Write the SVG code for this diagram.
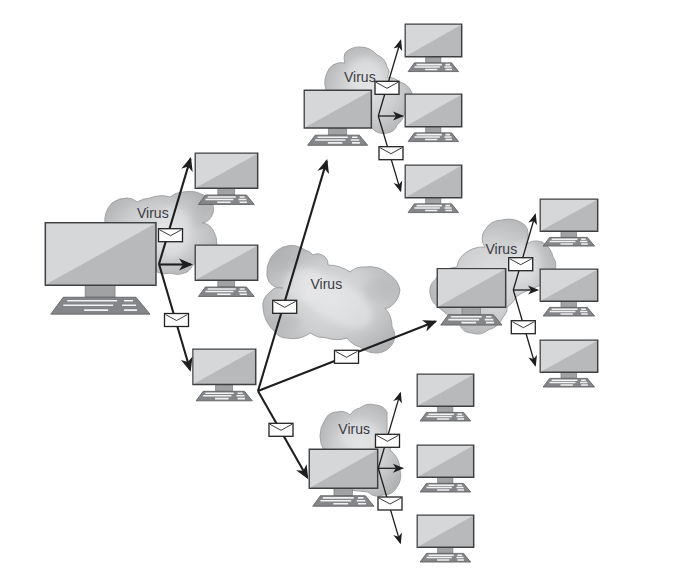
<svg xmlns="http://www.w3.org/2000/svg" width="692" height="577" viewBox="0 0 692 577">
<style>
.bg{fill:#fff}
.cloud{fill:url(#cg);stroke:#a3a4a6;stroke-width:1}
.puff{fill:#eeeeef;opacity:.4;filter:url(#soft)}
.shade{fill:#a9aaac;opacity:.3;filter:url(#soft)}
.label{font-family:"Liberation Sans",Arial,sans-serif;font-size:14px;fill:#3a3a44}
.scr{fill:#b8b9bb;stroke:#3f4042;stroke-width:1.5;vector-effect:non-scaling-stroke}
.lit{fill:#d6d7d9}
.stand{fill:#a1a2a4;stroke:#6d6e70;stroke-width:.6;vector-effect:non-scaling-stroke}
.kb{fill:#858689;stroke:#58595b;stroke-width:.8;vector-effect:non-scaling-stroke}
.key{stroke:#f1f1f2;stroke-width:1.6;vector-effect:non-scaling-stroke;fill:none}
.big{stroke:#1e1e1e;stroke-width:2.1;fill:none}
.mid{stroke:#1e1e1e;stroke-width:1.3;fill:none}
.env{fill:#fff;stroke:#232323;stroke-width:1.3}
.flap{fill:none;stroke:#3a3a3a;stroke-width:1}
</style>
<defs>
<radialGradient id="cg" cx="50%" cy="50%" r="58%">
<stop offset="0" stop-color="#dfe0e1"/><stop offset=".55" stop-color="#cdced0"/><stop offset="1" stop-color="#b2b3b5"/>
</radialGradient>
<filter id="soft" x="-40%" y="-40%" width="180%" height="180%"><feGaussianBlur stdDeviation="3"/></filter>
<marker id="ah" markerUnits="userSpaceOnUse" markerWidth="18" markerHeight="14" refX="12" refY="7" orient="auto"><path d="M14,7 L0,1 L4,7 L0,13z" fill="#1e1e1e"/></marker>
<marker id="as" markerUnits="userSpaceOnUse" markerWidth="14" markerHeight="12" refX="9.5" refY="6" orient="auto"><path d="M11,6 L0,1.5 L3,6 L0,10.500z" fill="#1e1e1e"/></marker>
<g id="pc">
<rect class="stand" x="40" y="63" width="30" height="12"/>
<path class="kb" d="M18,75 H91 L105,92 H5.500z"/>
<path class="key" d="M22,78.500 H72 M79,78.500 H88 M18,83 H68 M77,83 H91 M39,88 H63 M79,88 H92"/>
<rect class="scr" x="0" y="0" width="111" height="63"/>
<path class="lit" d="M1,1 H110 L1,62z"/>
</g>
<g id="mail">
<rect class="env" x="0" y="0" width="24" height="13"/>
<path class="flap" d="M1,1 L12,7 L23,1"/>
</g>
</defs>
<rect class="bg" width="692" height="577"/>

<g id="node-left">
<path class="cloud" d="M105,224 A26,26 0 0 1 112,203 A24,24 0 0 1 127,198 A14,14 0 0 1 137,202 A30,30 0 0 1 150,198 A30,30 0 0 1 170,197 A22,22 0 0 1 183,192 A30,30 0 0 1 210,200 A14,14 0 0 1 202,223 A14,14 0 0 1 213,230 A28,28 0 0 1 217,246 L193,265 A16,16 0 0 1 187,272 A22,22 0 0 1 170,273 A16,16 0 0 1 157,272 L150,226z"/>
<ellipse class="shade" cx="200" cy="215" rx="8" ry="14"/>
<ellipse class="puff" cx="172" cy="232" rx="18" ry="24"/>
<text class="label" x="137" y="218">Virus</text>
<use href="#pc" transform="translate(45.300,222.700) scale(.997,.994)"/>
</g>
<g id="pc-left-1"><use href="#pc" transform="translate(195.300,153.300) scale(.562,.556)"/></g>
<g id="pc-left-2"><use href="#pc" transform="translate(195.300,245.300) scale(.562,.556)"/></g>
<g id="pc-relay"><use href="#pc" transform="translate(193,349.300) scale(.565,.56)"/></g>

<g id="node-centre">
<path class="cloud" d="M267,276 A28,28 0 0 1 283,247 A24,24 0 0 1 305,250 A14,14 0 0 1 313,255 A10,10 0 0 1 325,257 A9,9 0 0 1 328,265 A40,40 0 0 1 350,272 A20,20 0 0 1 365,267 A30,30 0 0 1 390,275 A24,24 0 0 1 400,290 A24,24 0 0 1 390,307 A6,6 0 0 1 385,308 A28,28 0 0 1 392,327 A16,16 0 0 1 393,343 A20,20 0 0 1 378,353 A26,26 0 0 1 360,347 A24,24 0 0 1 347,338 A32,32 0 0 1 327,338 A28,28 0 0 1 310,333 A28,28 0 0 1 287,338 A14,14 0 0 1 275,332 A36,36 0 0 1 263,308 A16,16 0 0 1 270,292 A12,12 0 0 1 283,288 A14,14 0 0 1 267,276z"/>
<ellipse class="shade" cx="285" cy="262" rx="14" ry="10"/>
<ellipse class="shade" cx="378" cy="290" rx="14" ry="12"/>
<ellipse class="shade" cx="285" cy="322" rx="16" ry="8"/>
<ellipse class="puff" cx="335" cy="300" rx="42" ry="20" transform="rotate(32 335 300)"/>
<ellipse class="puff" cx="305" cy="285" rx="20" ry="18"/>
<text class="label" x="310.500" y="289">Virus</text>
</g>

<g id="node-top">
<path class="cloud" d="M327,92 A22,22 0 0 1 327,73 A14,14 0 0 1 333,65 A16,16 0 0 1 345,63 A14,14 0 0 1 345,53 A20,20 0 0 1 360,47 A22,22 0 0 1 377,55 A16,16 0 0 1 387,67 A8,8 0 0 1 387,77 A20,20 0 0 1 400,82 A18,18 0 0 1 412,93 L405,112 A22,22 0 0 1 397,125 A12,12 0 0 1 387,133 A14,14 0 0 1 372,128 L340,92z"/>
<ellipse class="puff" cx="365" cy="78" rx="18" ry="20"/>
<text class="label" x="344" y="81.500">Virus</text>
<use href="#pc" transform="translate(304.300,90.300) scale(.604,.598)"/>
</g>
<g id="pc-top-1"><use href="#pc" transform="translate(405.300,24.300) scale(.508,.514)"/></g>
<g id="pc-top-2"><use href="#pc" transform="translate(405.300,94.300) scale(.508,.514)"/></g>
<g id="pc-top-3"><use href="#pc" transform="translate(405.300,165.300) scale(.508,.514)"/></g>

<g id="node-right">
<path class="cloud" d="M438,307 A20,20 0 0 1 430,293 A14,14 0 0 1 435,280 A28,28 0 0 1 457,267 A20,20 0 0 1 463,255 A30,30 0 0 1 485,247 A14,14 0 0 1 485,230 A20,20 0 0 1 502,220 A26,26 0 0 1 522,223 A12,12 0 0 1 528,233 A14,14 0 0 1 525,245 A18,18 0 0 1 542,242 A22,22 0 0 1 553,257 A14,14 0 0 1 555,270 L541,285 L522,293 L516,297 A22,22 0 0 1 507,307 A12,12 0 0 1 503,317 A22,22 0 0 1 488,330 A16,16 0 0 1 472,333 A12,12 0 0 1 460,325z"/>
<ellipse class="puff" cx="525" cy="262" rx="16" ry="20"/>
<text class="label" x="485.500" y="254">Virus</text>
<use href="#pc" transform="translate(437.300,268.700) scale(.616,.613)"/>
</g>
<g id="pc-right-1"><use href="#pc" transform="translate(540.300,199.300) scale(.517,.508)"/></g>
<g id="pc-right-2"><use href="#pc" transform="translate(540.300,269.300) scale(.517,.508)"/></g>
<g id="pc-right-3"><use href="#pc" transform="translate(540.300,340.300) scale(.517,.508)"/></g>

<g id="node-bottom">
<path class="cloud" d="M325,452 A28,28 0 0 1 325,420 A12,12 0 0 1 337,412 A14,14 0 0 1 350,415 A16,16 0 0 1 360,408 A16,16 0 0 1 375,405 A14,14 0 0 1 387,412 L387,435 A16,16 0 0 1 390,450 A26,26 0 0 1 400,470 A20,20 0 0 1 397,487 A14,14 0 0 1 383,495 A14,14 0 0 1 368,492 L350,490 L325,460z"/>
<ellipse class="puff" cx="360" cy="436" rx="20" ry="14"/>
<text class="label" x="338.300" y="434">Virus</text>
<use href="#pc" transform="translate(309.300,449.300) scale(.616,.619)"/>
</g>
<g id="pc-bottom-1"><use href="#pc" transform="translate(417.300,374.300) scale(.508,.508)"/></g>
<g id="pc-bottom-2"><use href="#pc" transform="translate(417.300,445.300) scale(.508,.508)"/></g>
<g id="pc-bottom-3"><use href="#pc" transform="translate(417.300,515.300) scale(.508,.508)"/></g>

<g id="connectors">
<path class="big" marker-end="url(#ah)" d="M159,264 L190.400,158.900"/>
<path class="big" marker-end="url(#ah)" d="M159,264.500 L191,264.500"/>
<path class="big" marker-end="url(#ah)" d="M159,264 L190.100,369.800"/>
<path class="big" marker-end="url(#ah)" d="M258,391 L326.700,160.900"/>
<path class="big" marker-end="url(#ah)" d="M258,391 L435.400,321.500"/>
<path class="big" marker-end="url(#ah)" d="M258,391 L307.300,477.600"/>
<path class="mid" marker-end="url(#as)" d="M378.300,116 L400.600,40.700"/>
<path class="mid" marker-end="url(#as)" d="M378.300,116 L402.500,116"/>
<path class="mid" marker-end="url(#as)" d="M378.300,116 L400.600,190.900"/>
<path class="mid" marker-end="url(#as)" d="M513.300,290 L535.300,214.700"/>
<path class="mid" marker-end="url(#as)" d="M513.300,290 L537.500,290"/>
<path class="mid" marker-end="url(#as)" d="M513.300,290 L535.300,365.300"/>
<path class="mid" marker-end="url(#as)" d="M378.300,468.300 L400.300,393.100"/>
<path class="mid" marker-end="url(#as)" d="M378.300,468.300 L402.500,468.300"/>
<path class="mid" marker-end="url(#as)" d="M378.300,468.300 L400.300,542.900"/>
</g>

<g id="envelopes">
<use href="#mail" x="158.500" y="228.700"/>
<use href="#mail" x="164.500" y="313.500"/>
<use href="#mail" x="272.700" y="300.300"/>
<use href="#mail" x="334.500" y="350.300"/>
<use href="#mail" x="269" y="423.300"/>
<use href="#mail" x="375" y="81.300"/>
<use href="#mail" x="379" y="146.700"/>
<use href="#mail" x="508.700" y="257.700"/>
<use href="#mail" x="511.300" y="320.700"/>
<use href="#mail" x="375.500" y="434.300"/>
<use href="#mail" x="378" y="497"/>
</g>
</svg>
